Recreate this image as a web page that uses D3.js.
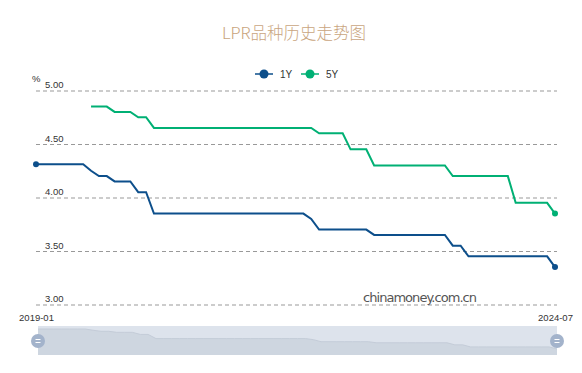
<html lang="zh">
<head>
<meta charset="utf-8">
<title>LPR品种历史走势图</title>
<script src="https://d3js.org/d3.v7.min.js"></script>
<style>
  body { margin: 0; background: #fff; }
  text { font-family: "Liberation Sans", Arial, "Noto Sans CJK SC", sans-serif; }
</style>
</head>
<body>
<script>

var w = 582;
var h = 373;

// monthly values, 2019-01 .. 2024-07
var months = [
  "2019-01","2019-02","2019-03","2019-04","2019-05","2019-06","2019-07","2019-08","2019-09","2019-10","2019-11","2019-12",
  "2020-01","2020-02","2020-03","2020-04","2020-05","2020-06","2020-07","2020-08","2020-09","2020-10","2020-11","2020-12",
  "2021-01","2021-02","2021-03","2021-04","2021-05","2021-06","2021-07","2021-08","2021-09","2021-10","2021-11","2021-12",
  "2022-01","2022-02","2022-03","2022-04","2022-05","2022-06","2022-07","2022-08","2022-09","2022-10","2022-11","2022-12",
  "2023-01","2023-02","2023-03","2023-04","2023-05","2023-06","2023-07","2023-08","2023-09","2023-10","2023-11","2023-12",
  "2024-01","2024-02","2024-03","2024-04","2024-05","2024-06","2024-07"
];

var lpr1y = [
  4.31,4.31,4.31,4.31,4.31,4.31,4.31,4.25,4.20,4.20,4.15,4.15,
  4.15,4.05,4.05,3.85,3.85,3.85,3.85,3.85,3.85,3.85,3.85,3.85,
  3.85,3.85,3.85,3.85,3.85,3.85,3.85,3.85,3.85,3.85,3.85,3.80,
  3.70,3.70,3.70,3.70,3.70,3.70,3.70,3.65,3.65,3.65,3.65,3.65,
  3.65,3.65,3.65,3.65,3.65,3.55,3.55,3.45,3.45,3.45,3.45,3.45,
  3.45,3.45,3.45,3.45,3.45,3.45,3.35
];

var lpr5y = [
  null,null,null,null,null,null,null,4.85,4.85,4.85,4.80,4.80,
  4.80,4.75,4.75,4.65,4.65,4.65,4.65,4.65,4.65,4.65,4.65,4.65,
  4.65,4.65,4.65,4.65,4.65,4.65,4.65,4.65,4.65,4.65,4.65,4.65,
  4.60,4.60,4.60,4.60,4.45,4.45,4.45,4.30,4.30,4.30,4.30,4.30,
  4.30,4.30,4.30,4.30,4.30,4.20,4.20,4.20,4.20,4.20,4.20,4.20,
  4.20,3.95,3.95,3.95,3.95,3.95,3.85
];

var yTicks = [3.00, 3.50, 4.00, 4.50, 5.00];
var xTicks = ["2019-01", "2024-07"];

var series = [
  {name: "1Y", values: lpr1y, color: "#0d4f8b"},
  {name: "5Y", values: lpr5y, color: "#00b074"}
];

var left = 36, right = 555;

var xScale = d3.scalePoint()
    .domain(months)
    .range([left, right]);

var yScale = d3.scaleLinear()
    .domain([3, 5])
    .range([304.5, 90.5]);

var svg = d3.select("body")
  .append("svg")
    .attr("width", w)
    .attr("height", h);

// title
svg.append("text")
  .attr("x", w / 2 + 3)
  .attr("y", 39)
  .attr("text-anchor", "middle")
  .attr("font-size", 16.5)
  .attr("fill", "#c9a57e")
  .style("font-family", "'Noto Sans CJK SC', sans-serif")
  .style("font-weight", 300)
  .text("LPR品种历史走势图");

// legend
var legend = svg.append("g")
  .selectAll("g")
  .data(series)
  .enter().append("g")
    .attr("transform", (d, i) => `translate(${255 + i * 46}, 74)`);

legend.append("line")
  .attr("x1", 0).attr("x2", 18)
  .attr("stroke", d => d.color)
  .attr("stroke-width", 1.5);

legend.append("circle")
  .attr("cx", 9)
  .attr("r", 4.5)
  .attr("fill", d => d.color);

legend.append("text")
  .attr("x", 25)
  .attr("y", 4)
  .attr("font-size", 10)
  .attr("fill", "#333")
  .text(d => d.name);

// grid + y labels (inside, above the line)
var yAxis = d3.axisLeft(yScale)
  .tickValues(yTicks)
  .tickSize(-(right - left + 2))
  .tickFormat(d3.format(".2f"));

var gy = svg.append("g")
  .attr("transform", `translate(${left}, 0)`)
  .call(yAxis);

gy.select(".domain").remove();
gy.selectAll(".tick line")
  .attr("stroke", "#999")
  .attr("stroke-dasharray", "4,3");
gy.selectAll(".tick text")
  .attr("x", 9)
  .attr("dy", -3)
  .attr("text-anchor", "start")
  .attr("font-size", 9.5)
  .attr("fill", "#333");

svg.append("text")
  .attr("x", 32)
  .attr("y", 82)
  .attr("font-size", 9.5)
  .attr("fill", "#333")
  .text("%");

// x labels
var xAxis = d3.axisBottom(xScale)
  .tickValues(xTicks)
  .tickSize(0);

var gx = svg.append("g")
  .attr("transform", "translate(0, 311)")
  .call(xAxis);

gx.select(".domain").remove();
gx.selectAll(".tick text")
  .attr("font-size", 9.5)
  .attr("fill", "#333");

// watermark
svg.append("text")
  .attr("x", 363)
  .attr("y", 302)
  .attr("font-size", 13)
  .attr("fill", "#555")
  .style("font-family", "'DejaVu Sans', sans-serif")
  .attr("textLength", 114)
  .text("chinamoney.com.cn");

// lines
var line = d3.line()
  .defined(d => d != null)
  .x((d, i) => xScale(months[i]))
  .y(d => yScale(d));

svg.append("g")
  .selectAll("path")
  .data(series)
  .enter().append("path")
    .attr("d", d => line(d.values))
    .attr("fill", "none")
    .attr("stroke", d => d.color)
    .attr("stroke-width", 2);

// end markers
var dots = [
  {m: months[0], v: lpr1y[0], color: series[0].color},
  {m: months[months.length - 1], v: lpr1y[lpr1y.length - 1], color: series[0].color},
  {m: months[months.length - 1], v: lpr5y[lpr5y.length - 1], color: series[1].color}
];

svg.append("g")
  .selectAll("circle")
  .data(dots)
  .enter().append("circle")
    .attr("cx", d => xScale(d.m))
    .attr("cy", d => yScale(d.v))
    .attr("r", 3)
    .attr("fill", d => d.color);

// data zoom slider
var sTop = 326, sBot = 355;
var sx = d3.scalePoint().domain(months).range([38, 557]);
var sy = d3.scaleLinear()
  .domain(d3.extent(lpr1y))
  .range([sBot - 6, sTop + 3]);

svg.append("rect")
  .attr("x", 38)
  .attr("y", sTop)
  .attr("width", 557 - 38)
  .attr("height", sBot - sTop)
  .attr("fill", "#dde3ec");

var area = d3.area()
  .x((d, i) => sx(months[i]))
  .y0(sBot)
  .y1(d => sy(d));

svg.append("path")
  .attr("d", area(lpr1y))
  .attr("fill", "#ced6e0");

svg.append("path")
  .attr("d", d3.line().x((d, i) => sx(months[i])).y(d => sy(d))(lpr1y))
  .attr("fill", "none")
  .attr("stroke", "#c4ccd8")
  .attr("stroke-width", 1);

var handles = svg.append("g")
  .selectAll("g")
  .data([38, 557])
  .enter().append("g")
    .attr("transform", d => `translate(${d}, 341)`);

handles.append("circle")
  .attr("r", 7)
  .attr("fill", "#a3b3cb");

handles.append("line")
  .attr("x1", -2.5).attr("x2", 2.5)
  .attr("y1", -1.5).attr("y2", -1.5)
  .attr("stroke", "#fff");

handles.append("line")
  .attr("x1", -2.5).attr("x2", 2.5)
  .attr("y1", 1.5).attr("y2", 1.5)
  .attr("stroke", "#fff");

</script>
</body>
</html>
